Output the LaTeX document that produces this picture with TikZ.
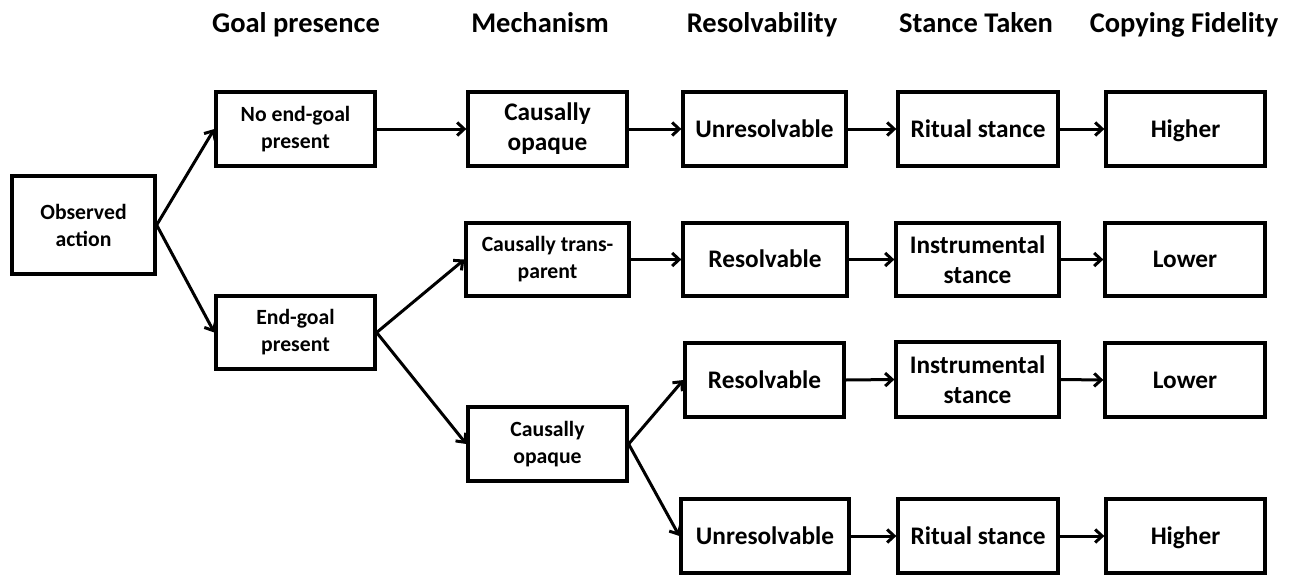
\documentclass[tikz,border=0pt]{standalone}
\usepackage{fontspec}
\setmainfont{Carlito}
\usetikzlibrary{arrows.meta}
\tikzset{
  box/.style={draw=black, line width=3.3pt, rectangle, minimum width=160pt, minimum height=74pt, align=center, inner sep=2pt, font=\bfseries\fontsize{25.3}{30}\selectfont},
  sbox/.style={box, font=\bfseries\fontsize{21.7}{27}\selectfont},
  one/.style={text height=20.2pt, text depth=3.9pt},
  hdr/.style={anchor=base, inner sep=0pt, font=\bfseries\fontsize{28.5}{32}\selectfont},
  arr/.style={line width=3pt, -{Straight Barb[length=7pt,width=13pt,line width=3pt]}}
}
\begin{document}
\begin{tikzpicture}[x=1pt,y=-1pt]
\useasboundingbox (0,0) rectangle (1291,574);
% headers
\node[hdr] (h1) at (296,32) {Goal presence};
\node[hdr] (h2) at (540,32) {Mechanism};
\node[hdr] (h3) at (762,32) {Resolvability};
\node[hdr] (h4) at (976,32) {Stance Taken};
\node[hdr] (h5) at (1184,32) {Copying Fidelity};
% boxes
\node[sbox, minimum width=143pt, minimum height=98pt] (obs) at (83.5,225) {Observed\\action};
\node[sbox, minimum width=159pt] (noend) at (295.5,129) {No end-goal\\present};
\node[sbox, minimum width=159pt, minimum height=73pt] (endg) at (295.5,332.5) {End-goal\\present};
\node[box, minimum width=159pt] (opq1) at (547.5,129) {Causally\\opaque};
\node[sbox, minimum width=163pt, minimum height=73pt] (trans) at (547.5,259.5) {Causally trans-\\parent};
\node[sbox, minimum width=159pt] (opq2) at (547.5,444) {Causally\\opaque};
\node[box, one, minimum width=163pt] (unres1) at (764.5,129) {Unresolvable};
\node[box, one, minimum width=164pt, minimum height=73pt] (res2) at (765,259.5) {Resolvable};
\node[box, one, minimum width=159pt] (res3) at (764.5,380) {Resolvable};
\node[box, one, minimum width=168pt] (unres4) at (765,536) {Unresolvable};
\node[box, one] (rit1) at (978,129) {Ritual stance};
\node[box, minimum width=163pt, minimum height=73pt] (ins2) at (977.5,259.5) {Instrumental\\stance};
\node[box, minimum width=163pt, minimum height=75pt] (ins3) at (977.5,379.5) {Instrumental\\stance};
\node[box, one] (rit4) at (978,536) {Ritual stance};
\node[box, one, minimum width=159pt] (hi1) at (1185.5,129) {Higher};
\node[box, one, minimum height=73pt] (lo2) at (1185,259.5) {Lower};
\node[box, one] (lo3) at (1185,380) {Lower};
\node[box, one, minimum width=159pt] (hi4) at (1185.5,536) {Higher};
% connectors
\draw[arr] (obs.east) -- (noend.west);
\draw[arr] (obs.east) -- (endg.west);
\draw[arr] (noend.east) -- (opq1.west);
\draw[arr] (endg.east) -- (trans.west);
\draw[arr] (endg.east) -- (opq2.west);
\draw[arr] (opq1.east) -- (unres1.west);
\draw[arr] (trans.east) -- (res2.west);
\draw[arr] (opq2.east) -- (res3.west);
\draw[arr] (opq2.east) -- (unres4.west);
\draw[arr] (unres1.east) -- (rit1.west);
\draw[arr] (res2.east) -- (ins2.west);
\draw[arr] (res3.east) -- (ins3.west);
\draw[arr] (unres4.east) -- (rit4.west);
\draw[arr] (rit1.east) -- (hi1.west);
\draw[arr] (ins2.east) -- (lo2.west);
\draw[arr] (ins3.east) -- (lo3.west);
\draw[arr] (rit4.east) -- (hi4.west);
\end{tikzpicture}
\end{document}
